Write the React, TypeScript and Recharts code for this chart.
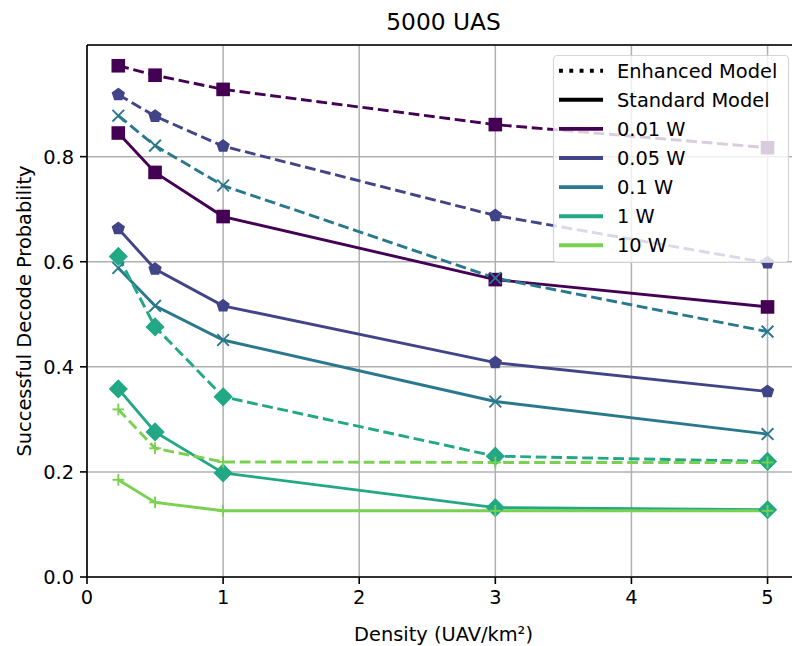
import React from "react"
import {
  LineChart,
  Line,
  XAxis,
  YAxis,
  CartesianGrid,
  ReferenceLine,
  Label,
} from "recharts"

const densities = [0.23, 0.5, 1, 3, 5]
const powers = ["0.01 W", "0.05 W", "0.1 W", "1 W", "10 W"]

const enhanced001 = [0.973, 0.955, 0.928, 0.861, 0.817]
const enhanced005 = [0.918, 0.877, 0.82, 0.688, 0.598]
const enhanced01 = [0.878, 0.821, 0.745, 0.569, 0.467]
const enhanced1 = [0.61, 0.476, 0.343, 0.23, 0.22]
const enhanced10 = [0.319, 0.245, 0.219, 0.218, 0.218]

const standard001 = [0.845, 0.77, 0.686, 0.566, 0.514]
const standard005 = [0.663, 0.586, 0.516, 0.408, 0.353]
const standard01 = [0.588, 0.516, 0.451, 0.334, 0.272]
const standard1 = [0.358, 0.276, 0.198, 0.132, 0.128]
const standard10 = [0.185, 0.142, 0.126, 0.126, 0.126]

const xTicks = [0, 1, 2, 3, 4, 5]
const yTicks = [0, 0.2, 0.4, 0.6, 0.8]

const enhancedSets = [enhanced001, enhanced005, enhanced01, enhanced1, enhanced10]
const standardSets = [standard001, standard005, standard01, standard1, standard10]

const colors = ["#440154", "#414487", "#2a788e", "#22a884", "#7ad151"]
const markers = ["s", "p", "x", "D", "+"]

const X_MAX = 5.2385
const Y_MAX = 1.0125
const FONT = "'DejaVu Sans', sans-serif"
const FS = 19.4

const rows = densities.map((d, i) => {
  const row: Record<string, number> = { x: d }
  powers.forEach((_, p) => {
    row[`e${p}`] = enhancedSets[p][i]
    row[`s${p}`] = standardSets[p][i]
  })
  return row
})

function Marker({ cx, cy, shape, color }: { cx: number; cy: number; shape: string; color: string }) {
  const ew = 1.9
  if (shape === "s") {
    const h = 5.85
    return <rect x={cx - h} y={cy - h} width={h * 2} height={h * 2} fill={color} stroke={color} strokeWidth={ew} />
  }
  if (shape === "p") {
    const r = 5.85
    const pts = [0, 1, 2, 3, 4]
      .map((k) => {
        const a = ((-90 + 72 * k) * Math.PI) / 180
        return `${cx + r * Math.cos(a)},${cy + r * Math.sin(a)}`
      })
      .join(" ")
    return <polygon points={pts} fill={color} stroke={color} strokeWidth={ew} strokeLinejoin="miter" />
  }
  if (shape === "D") {
    const r = 8.27
    return (
      <polygon
        points={`${cx},${cy - r} ${cx + r},${cy} ${cx},${cy + r} ${cx - r},${cy}`}
        fill={color}
        stroke={color}
        strokeWidth={ew}
      />
    )
  }
  const h = 5.85
  if (shape === "x") {
    return (
      <g stroke={color} strokeWidth={ew}>
        <line x1={cx - h} y1={cy - h} x2={cx + h} y2={cy + h} />
        <line x1={cx - h} y1={cy + h} x2={cx + h} y2={cy - h} />
      </g>
    )
  }
  return (
    <g stroke={color} strokeWidth={ew}>
      <line x1={cx - h} y1={cy} x2={cx + h} y2={cy} />
      <line x1={cx} y1={cy - h} x2={cx} y2={cy + h} />
    </g>
  )
}

const makeDot = (shape: string, color: string, id: string) => (props: any) => (
  <Marker key={`${id}-${props.index}`} cx={props.cx} cy={props.cy} shape={shape} color={color} />
)

const legendRows = [
  { label: "Enhanced Model", color: "#000", dash: "3.9 6.4" },
  { label: "Standard Model", color: "#000", dash: undefined },
  ...powers.map((p, i) => ({ label: p, color: colors[i], dash: undefined })),
]

export default function App() {
  const series: React.ReactNode[] = []
  powers.forEach((p, i) => {
    series.push(
      <Line
        key={`e${i}`}
        dataKey={`e${i}`}
        stroke={colors[i]}
        strokeWidth={2.9}
        strokeDasharray="10.8 4.7"
        dot={makeDot(markers[i], colors[i], `e${i}`)}
        activeDot={false}
        isAnimationActive={false}
      />
    )
    series.push(
      <Line
        key={`s${i}`}
        dataKey={`s${i}`}
        stroke={colors[i]}
        strokeWidth={2.9}
        dot={makeDot(markers[i], colors[i], `s${i}`)}
        activeDot={false}
        isAnimationActive={false}
      />
    )
  })

  return (
    <div
      style={{
        position: "absolute",
        left: 0,
        top: 0,
        width: 792,
        height: 646,
        overflow: "hidden",
        background: "#fff",
        fontFamily: FONT,
      }}
    >
      <LineChart width={800} height={646} data={rows} margin={{ top: 45, right: 0, bottom: 0, left: 0 }}>
        <CartesianGrid stroke="#b0b0b0" strokeWidth={1.5} verticalPoints={undefined} />
        <XAxis
          type="number"
          dataKey="x"
          domain={[0, X_MAX]}
          ticks={xTicks}
          allowDataOverflow
          height={69}
          axisLine={{ stroke: "#000", strokeWidth: 1.6 }}
          tickLine={{ stroke: "#000", strokeWidth: 1.6 }}
          tickSize={7}
          tickMargin={6}
          tick={{ fill: "#000", fontSize: FS, fontFamily: FONT }}
        >
          <Label
            content={() => (
              <text x={443.5} y={641} textAnchor="middle" fontSize={FS} fontFamily={FONT} fill="#000">
                Density (UAV/km²)
              </text>
            )}
          />
        </XAxis>
        <YAxis
          type="number"
          domain={[0, Y_MAX]}
          ticks={yTicks}
          allowDataOverflow
          width={87}
          axisLine={{ stroke: "#000", strokeWidth: 1.6 }}
          tickLine={{ stroke: "#000", strokeWidth: 1.6 }}
          tickSize={7}
          tickMargin={6}
          tickFormatter={(v: number) => v.toFixed(1)}
          tick={{ fill: "#000", fontSize: FS, fontFamily: FONT }}
        >
          <Label
            content={() => (
              <text
                x={24}
                y={311}
                transform="rotate(-90 24 311)"
                textAnchor="middle"
                dominantBaseline="central"
                fontSize={FS}
                fontFamily={FONT}
                fill="#000"
              >
                Successful Decode Probability
              </text>
            )}
          />
        </YAxis>
        <ReferenceLine y={Y_MAX} stroke="#000" strokeWidth={1.6} />
        {series}
      </LineChart>

      <svg
        width={792}
        height={646}
        style={{ position: "absolute", left: 0, top: 0, pointerEvents: "none" }}
      >
        <text x={443.5} y={30} textAnchor="middle" fontSize={23.3} fontFamily={FONT} fill="#000">
          5000 UAS
        </text>
        <rect
          x={553.5}
          y={55.5}
          width={235}
          height={207}
          rx={4}
          fill="#fff"
          fillOpacity={0.8}
          stroke="#ccc"
          strokeOpacity={0.8}
          strokeWidth={1.2}
        />
        {legendRows.map((r, i) => {
          const y = 70.7 + 29.1 * i
          return (
            <g key={r.label}>
              <line x1={559} x2={603} y1={y} y2={y} stroke={r.color} strokeWidth={3.9} strokeDasharray={r.dash} />
              <text x={617} y={y + 7} fontSize={FS} fontFamily={FONT} fill="#000">
                {r.label}
              </text>
            </g>
          )
        })}
      </svg>
    </div>
  )
}
